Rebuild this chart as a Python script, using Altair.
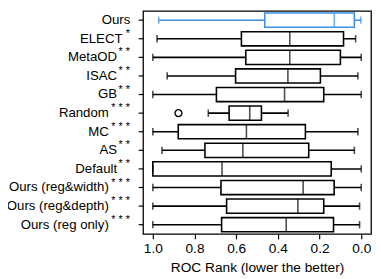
import altair as alt
import pandas as pd

names = ["Ours", "ELECT", "MetaOD", "ISAC", "GB", "Random", "MC", "AS",
         "Default", "Ours (reg&width)", "Ours (reg&depth)", "Ours (reg only)"]
stars = [0, 1, 2, 2, 2, 3, 3, 2, 2, 3, 3, 3]
whisk_lo = [0.972, 0.980, 1.000, 0.931, 1.000, 0.734, 1.000, 0.956, 1.000, 1.000, 1.000, 1.000]
q1 = [0.463, 0.575, 0.554, 0.603, 0.695, 0.634, 0.878, 0.750, 1.000, 0.673, 0.646, 0.670]
median = [0.129, 0.343, 0.343, 0.352, 0.368, 0.535, 0.551, 0.568, 0.668, 0.279, 0.304, 0.360]
q3 = [0.033, 0.085, 0.100, 0.196, 0.180, 0.479, 0.268, 0.252, 0.144, 0.130, 0.180, 0.133]
whisk_hi = [0.002, 0.027, 0.000, 0.016, 0.000, 0.351, 0.016, 0.033, 0.000, 0.000, 0.008, 0.008]
outlier_names = ["Random"]
outlier_vals = [0.877]
x_ticks = [0.0, 0.2, 0.4, 0.6, 0.8, 1.0]

df = pd.DataFrame(dict(name=names, stars=stars, lo=whisk_lo, q1=q1, med=median,
                       q3=q3, hi=whisk_hi))
df["grp"] = ["ours" if n == "Ours" else "other" for n in names]
out_df = pd.DataFrame(dict(name=outlier_names, v=outlier_vals))

FONT = "Liberation Sans, Arial, sans-serif"
BLUE = "#3d8fe8"
SW = 1.6

xscale = alt.Scale(domain=[-0.047, 1.047], reverse=True, nice=False, zero=False)
yscale = alt.Scale(domain=names, paddingInner=0, paddingOuter=0)
yenc = alt.Y("name:N", sort=names, scale=yscale,
             axis=alt.Axis(title=None, labels=False, ticks=True, tickSize=5,
                           tickWidth=1.2, domain=False, grid=False))
cscale = alt.Scale(domain=["ours", "other"], range=[BLUE, "black"])

base = alt.Chart(df)

whisk = base.mark_rule(strokeWidth=SW).encode(
    x=alt.X("lo:Q", scale=xscale,
            axis=alt.Axis(values=x_ticks, format=".1f", title="ROC Rank (lower the better)",
                          grid=False, tickSize=5, tickWidth=1.2, domain=False,
                          labelFontSize=14, titleFontSize=14, labelPadding=3,
                          titlePadding=5)),
    x2="hi:Q",
    y=yenc,
    color=alt.Color("grp:N", scale=cscale, legend=None),
)

box = base.mark_bar(size=14.5, fill="white", strokeWidth=SW, fillOpacity=1).encode(
    x=alt.X("q1:Q", scale=xscale),
    x2="q3:Q",
    y=yenc,
    stroke=alt.Stroke("grp:N", scale=cscale, legend=None),
)

med_tick = base.mark_tick(size=14.5, thickness=SW).encode(
    x=alt.X("med:Q", scale=xscale),
    y=yenc,
    color=alt.Color("grp:N", scale=cscale, legend=None),
)

cap_lo = base.mark_tick(size=7.5, thickness=SW).encode(
    x=alt.X("lo:Q", scale=xscale),
    y=yenc,
    color=alt.Color("grp:N", scale=cscale, legend=None),
)
cap_hi = base.mark_tick(size=7.5, thickness=SW).encode(
    x=alt.X("hi:Q", scale=xscale),
    y=yenc,
    color=alt.Color("grp:N", scale=cscale, legend=None),
)

outl = alt.Chart(out_df).mark_point(shape="circle", size=50, filled=False,
                                    color="black", strokeWidth=1.4, opacity=1).encode(
    x=alt.X("v:Q", scale=xscale),
    y=alt.Y("name:N", sort=names, scale=yscale),
)

name_txt = base.transform_calculate(
    px="-13 - [0, 8, 13.5, 22][datum.stars]"
).mark_text(align="right", baseline="middle", fontSize=13.5, font=FONT, color="black").encode(
    x=alt.X("px:Q", scale=None),
    y=alt.Y("name:N", sort=names, scale=yscale),
    text="name:N",
)

star_txt = base.transform_filter("datum.stars > 0").transform_calculate(
    st="['', '*', '* *', '* * *'][datum.stars]"
).mark_text(align="right", baseline="middle", fontSize=11, font=FONT, color="black",
            dy=-5).encode(
    x=alt.value(-13.5),
    y=alt.Y("name:N", sort=names, scale=yscale),
    text="st:N",
)

chart = alt.layer(whisk, box, med_tick, cap_lo, cap_hi, outl, name_txt, star_txt).properties(
    width=233, height=228,
    autosize=alt.AutoSizeParams(type="none"),
    padding={"left": 138, "top": 0, "right": 2, "bottom": 40},
).configure_view(
    stroke="black", strokeWidth=1.3
).configure_axis(
    labelFont=FONT, titleFont=FONT, labelColor="black", titleColor="black",
    tickColor="black", titleFontWeight="normal",
)

chart.save("out.html", embed_options={"renderer": "svg", "actions": False})
